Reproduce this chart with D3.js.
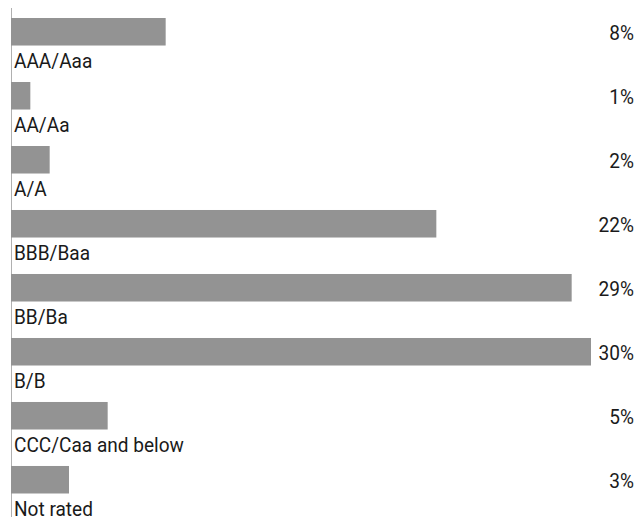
<!DOCTYPE html>
<html>
<head>
<meta charset="utf-8">
<script src="https://cdn.jsdelivr.net/npm/d3@7"></script>
<style>
  html, body { margin: 0; padding: 0; background: #fff; overflow: hidden; }
  text { font-family: Roboto, "Liberation Sans", sans-serif; fill: #1a1a1a; }
</style>
</head>
<body>
<div id="chart"></div>
<script>
// rating buckets, share of portfolio
const categories = ["AAA/Aaa", "AA/Aa", "A/A", "BBB/Baa", "BB/Ba", "B/B", "CCC/Caa and below", "Not rated"];
const values = [8, 1, 2, 22, 29, 30, 5, 3];
const valueLabels = ["8%", "1%", "2%", "22%", "29%", "30%", "5%", "3%"];

const width = 639, height = 517;

const svg = d3.select("#chart").append("svg")
    .attr("width", width)
    .attr("height", height);

const x = d3.scaleLinear().domain([0, 30]).range([11, 591]);
const y = d3.scaleBand()
    .domain(categories)
    .range([18, 493.5])
    .paddingInner(0.57)
    .paddingOuter(0);

// left axis line
svg.append("line")
    .attr("x1", 11.5).attr("x2", 11.5)
    .attr("y1", 8).attr("y2", height)
    .attr("stroke", "#b0b0b0")
    .attr("stroke-width", 1);

const rows = svg.selectAll("g.row")
    .data(categories)
    .enter().append("g")
    .attr("class", "row");

rows.append("rect")
    .attr("x", x(0))
    .attr("y", d => y(d))
    .attr("width", (d, i) => x(values[i]) - x(0))
    .attr("height", y.bandwidth())
    .attr("fill", "#939393");

// text is a bit condensed in the original
rows.append("text")
    .attr("transform", d => `translate(14,${y(d) + 50}) scale(0.93,1)`)
    .attr("font-size", 20.5)
    .text(d => d);

rows.append("text")
    .attr("transform", d => `translate(634,${y(d) + 22}) scale(0.93,1)`)
    .attr("text-anchor", "end")
    .attr("font-size", 20.5)
    .text((d, i) => valueLabels[i]);
</script>
</body>
</html>
